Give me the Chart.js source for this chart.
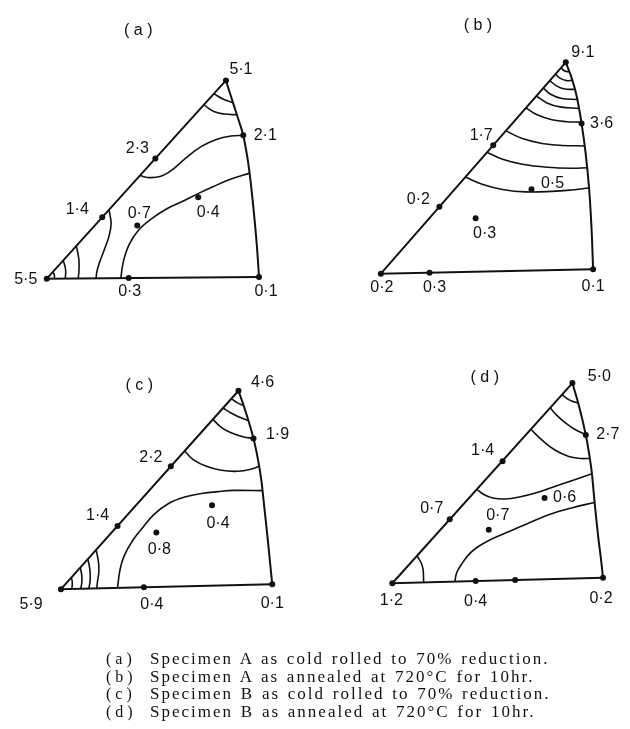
<!DOCTYPE html>
<html>
<head>
<meta charset="utf-8">
<script src="https://cdn.jsdelivr.net/npm/chart.js@4.4.1/dist/chart.umd.min.js"></script>
<style>
  html, body { margin: 0; padding: 0; background: #fff; }
  #wrap { position: relative; width: 630px; height: 729px; overflow: hidden; }
  #fig { position: absolute; left: 0; top: 0; }
  #caption {
    position: absolute; left: 106px; top: 650px;
    font-family: "Liberation Serif", "DejaVu Serif", serif;
    font-size: 17px; line-height: 17.5px; color: #111;
    letter-spacing: 2px; word-spacing: 1.5px; white-space: nowrap;
  }
  #caption .tag { display: inline-block; width: 44px; letter-spacing: 0; word-spacing: 0; font-size: 16px; }
</style>
</head>
<body>
<div id="wrap">
  <canvas id="fig" width="630" height="729"></canvas>
  <div id="caption"></div>
</div>
<script>
// figure units, x to the right, y downwards

// (a) Specimen A, cold rolled
const sidesA = [[258.3, 276], [43.3, 277.7], [224.8, 77.3]];
const arcA = [[224.8, 77.3], [232, 100], [238.5, 120], [242.3, 132.7], [246.5, 155], [249.5, 177], [253, 210], [256, 243], [258.3, 276]];
const contoursA = [
  [[212.7, 90.7], [221.7, 96], [232.3, 100]],
  [[202.7, 102.3], [213.3, 109], [223.3, 111.3], [235.8, 112]],
  [[137.6, 173.5], [146, 175.5], [158, 174.5], [170, 168], [185, 155], [200, 144], [215, 137], [230, 133.5], [242.3, 132.7]],
  [[118.3, 277.1], [121, 260], [126.7, 243.3], [136, 229], [150, 216.7], [165, 207], [180, 200], [197, 191.5], [213.3, 184], [230, 177], [248.7, 171]],
  [[106.3, 208], [108.5, 222], [106, 236], [101, 250], [96.5, 262], [94, 271], [93.3, 277.3]],
  [[73.3, 244.5], [75.8, 258], [76, 268], [75.2, 277.4]],
  [[60, 259.2], [62.2, 267], [62.5, 272], [62, 277.5]],
  [[49.5, 270.8], [51, 274], [51, 277.6]],
];
const dotsA = [[43.3, 277.7], [126.3, 277], [258.3, 276], [224.8, 77.3], [242.3, 132.7], [153.3, 156.3], [99.5, 215.5], [135, 224], [196.7, 195.5]];
const valuesA = ["5·5", "0·3", "0·1", "5·1", "2·1", "2·3", "1·4", "0·7", "0·4"];

// (b) Specimen A, annealed
const sidesB = [[596.7, 268.3], [381.7, 272.7], [569, 59]];
const arcB = [[569, 59], [575, 75], [580, 93], [585, 120.7], [589, 150], [592.5, 185], [595, 225], [596.7, 268.3]];
const contoursB = [
  [[564.2, 64.5], [568, 67.8], [572.5, 68.5]],
  [[558.5, 71], [564, 75.5], [570, 77.5], [575.6, 77]],
  [[552.8, 77.5], [560, 83], [568, 86], [578.1, 86.3]],
  [[546.2, 85], [554, 91.5], [565, 95.5], [580.6, 96.5]],
  [[539.2, 93], [550, 100], [563, 104], [582.4, 105.5]],
  [[528.7, 105], [540, 112], [555, 117], [570, 119], [584.7, 119.3]],
  [[508.3, 128.3], [525, 136], [545, 141], [565, 143], [588.1, 143.5]],
  [[489.2, 150], [505, 157], [525, 162], [550, 165], [575, 166], [590.6, 165.5]],
  [[467.3, 175], [485, 182.5], [505, 187.5], [528, 190], [555, 189.5], [575, 188], [592.5, 186]],
];
const dotsB = [[381.7, 272.7], [431, 271.7], [596.7, 268.3], [569, 59], [585, 120.7], [495.5, 142.7], [441, 205], [477.7, 216.7], [534.3, 187.3]];
const valuesB = ["0·2", "0·3", "0·1", "9·1", "3·6", "1·7", "0·2", "0·3", "0·5"];

// (c) Specimen B, cold rolled
const sidesC = [[271.7, 586.7], [57.7, 591.7], [237.5, 391]];
const arcC = [[237.5, 391], [245, 413], [252.7, 439.3], [257.5, 462], [260.7, 482], [264, 512], [267, 540], [269.5, 565], [271.7, 586.7]];
const contoursC = [
  [[230.3, 399], [236, 403], [242.6, 406]],
  [[221.8, 408.5], [230, 413.5], [238, 417.5], [247.3, 421]],
  [[211.5, 420], [220, 428], [230, 433.5], [242, 437.5], [252.7, 439.3]],
  [[182.9, 452], [192, 461], [205, 467.5], [220, 471.5], [236.7, 472.5], [250, 470.5], [258.4, 467.5]],
  [[115, 590.4], [117.5, 572], [121.7, 558], [130, 543], [140, 530], [152, 516], [166.7, 505], [183, 498.5], [200, 495], [217, 493], [233.3, 491.8], [261.8, 492]],
  [[93.3, 552], [95.8, 565], [96, 575], [94.8, 583], [94, 590.8]],
  [[85, 561.2], [87, 572], [87.3, 582], [86, 591]],
  [[77.3, 569.8], [78.8, 578], [78.8, 585], [77.7, 591.2]],
  [[68.3, 579.9], [69.2, 585], [68.7, 591.4]],
];
const dotsC = [[57.7, 591.7], [141.7, 589.8], [271.7, 586.7], [237.5, 391], [252.7, 439.3], [169, 467.5], [115, 527.7], [154.3, 534.3], [210.7, 506.7]];
const valuesC = ["5·9", "0·4", "0·1", "4·6", "1·9", "2·2", "1·4", "0·8", "0·4"];

// (d) Specimen B, annealed
const sidesD = [[606.7, 580], [393.3, 585.7], [575.7, 383.3]];
const arcD = [[575.7, 383.3], [582, 405], [589.3, 435.7], [593, 457], [595.5, 475], [598.3, 505], [602, 540], [604.5, 560], [606.7, 580]];
const contoursD = [
  [[565.2, 395], [572, 400], [578, 402.5], [581.8, 403.5]],
  [[553.2, 408.3], [560, 416], [568, 423], [578, 430], [589.3, 435.5]],
  [[533.6, 430], [545, 441], [558, 451], [572, 457.5], [584, 459.5], [593.3, 459.5]],
  [[478.9, 490.7], [486, 496], [495, 499.5], [508, 500.5], [522, 498.5], [540, 494], [560, 487], [578, 481], [595.5, 475]],
  [[456.7, 584], [458.5, 575], [463.3, 566.7], [470, 557.5], [478.3, 550], [495, 540.5], [511.7, 533.3], [530, 525.5], [551.7, 516.5], [575, 509.5], [598.3, 504]],
  [[418.3, 558], [422.5, 565], [424.5, 572], [425, 584.8]],
];
const dotsD = [[393.3, 585.7], [477.7, 583.4], [517.7, 582.5], [606.7, 580], [575.7, 383.3], [589.3, 435.7], [505, 462.3], [451.5, 521], [491, 531.7], [547.5, 499.5]];
const valuesD = ["1·2", "0·4", null, "0·2", "5·0", "2·7", "1·4", "0·7", "0·7", "0·6"];

const titles = ["( a )", "( b )", "( c )", "( d )"];
const captionTags = ["( a )", "( b )", "( c )", "( d )"];
const captionTexts = [
  "Specimen A as cold rolled to 70% reduction.",
  "Specimen A as annealed at 720°C for 10hr.",
  "Specimen B as cold rolled to 70% reduction.",
  "Specimen B as annealed at 720°C for 10hr.",
];

// label placement (pixels from the dot) and title anchors
const offsetsA = [[-21, 1], [1, 14], [7, 15], [15, -11], [22, 0], [-18, -10], [-25, -8], [2, -12], [10, 15]];
const offsetsB = [[1, 14], [5, 15], [0, 17], [17, -10], [20, 0], [-12, -10], [-21, -7], [9, 15], [21, -6]];
const offsetsC = [[-30, 15], [8, 17], [0, 19], [24, -8], [24, -4], [-20, -9], [-20, -10], [3, 17], [6, 18]];
const offsetsD = [[-1, 17], [0, 21], [0, 0], [-2, 21], [27, -6], [22, 0], [-20, -11], [-18, -11], [9, -14], [20, 0]];
const titleAt = [[136, 27], [480, 22], [137, 386], [487, 378]];

const panels = [
  { sides: sidesA, arc: arcA, contours: contoursA, dots: dotsA, values: valuesA, offsets: offsetsA },
  { sides: sidesB, arc: arcB, contours: contoursB, dots: dotsB, values: valuesB, offsets: offsetsB },
  { sides: sidesC, arc: arcC, contours: contoursC, dots: dotsC, values: valuesC, offsets: offsetsC },
  { sides: sidesD, arc: arcD, contours: contoursD, dots: dotsD, values: valuesD, offsets: offsetsD },
];

const ink = "#111";
const toXY = (pts) => pts.map(([x, y]) => ({ x, y }));

const lineSet = (pts, width, tension) => ({
  data: toXY(pts),
  showLine: true,
  borderColor: ink,
  borderWidth: width,
  tension: tension,
  pointRadius: 0,
  fill: false,
  clip: false,
});

const buildDatasets = () => {
  const sets = [];
  panels.forEach((p) => {
    sets.push(lineSet(p.sides, 2, 0));
    sets.push(lineSet(p.arc, 2, 0.4));
    p.contours.forEach((c) => sets.push(lineSet(c, 1.6, 0.4)));
    sets.push({
      data: toXY(p.dots),
      showLine: false,
      pointRadius: 3,
      pointBackgroundColor: ink,
      pointBorderWidth: 0,
      clip: false,
    });
  });
  return sets;
};

const labelPlugin = {
  id: "ipfLabels",
  afterDatasetsDraw(chart) {
    const { ctx, scales } = chart;
    ctx.save();
    ctx.fillStyle = ink;
    ctx.font = "16px 'Liberation Sans', Arial, sans-serif";
    ctx.textAlign = "center";
    ctx.textBaseline = "middle";
    panels.forEach((p, k) => {
      p.dots.forEach((d, i) => {
        if (!p.values[i]) return;
        const px = scales.x.getPixelForValue(d[0]) + p.offsets[i][0];
        const py = scales.y.getPixelForValue(d[1]) + p.offsets[i][1];
        ctx.fillText(p.values[i], px, py);
      });
      ctx.fillText(titles[k], scales.x.getPixelForValue(titleAt[k][0]), scales.y.getPixelForValue(titleAt[k][1]));
    });
    ctx.restore();
  },
};

new Chart(document.getElementById("fig"), {
  type: "scatter",
  data: { datasets: buildDatasets() },
  options: {
    responsive: false,
    animation: false,
    events: [],
    layout: { padding: 0 },
    plugins: { legend: { display: false }, tooltip: { enabled: false } },
    scales: {
      x: { type: "linear", min: 0, max: 630, display: false },
      y: { type: "linear", min: 0, max: 729, reverse: true, display: false },
    },
  },
  plugins: [labelPlugin],
});

document.getElementById("caption").innerHTML = captionTexts
  .map((t, i) => '<div><span class="tag">' + captionTags[i] + "</span>" + t + "</div>")
  .join("");
</script>
</body>
</html>
